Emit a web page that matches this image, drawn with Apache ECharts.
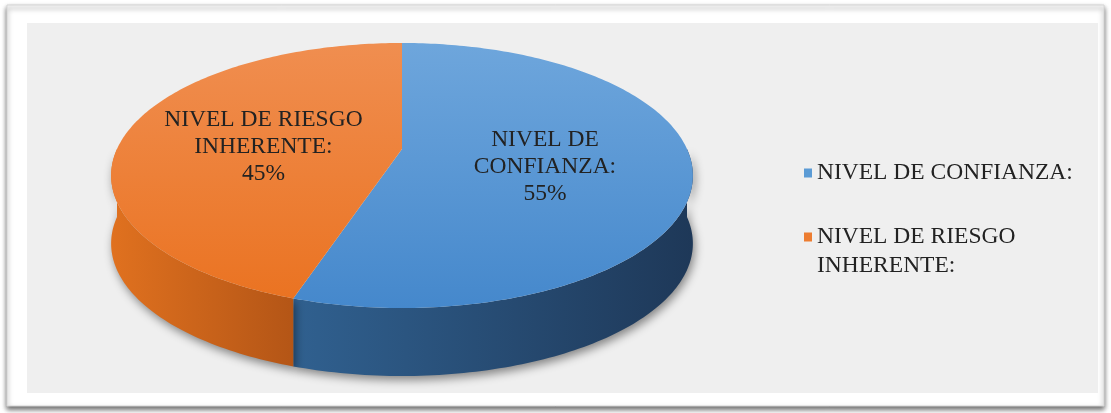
<!DOCTYPE html>
<html>
<head>
<meta charset="utf-8">
<script src="https://cdn.jsdelivr.net/npm/echarts@6/dist/echarts.min.js"></script>
<style>
html,body{margin:0;padding:0;background:#ffffff;}
#chart{width:1111px;height:413px;}
</style>
</head>
<body>
<div id="chart"></div>
<script>
// ---- data ----
const categories = ['NIVEL DE CONFIANZA:', 'NIVEL DE RIESGO INHERENTE:'];
const values = [55, 45];
const sliceLabelLines = [['NIVEL DE', 'CONFIANZA:'], ['NIVEL DE RIESGO', 'INHERENTE:']];
const legendLabelLines = [['NIVEL DE CONFIANZA:'], ['NIVEL DE RIESGO', 'INHERENTE:']];
const sliceColors = ['#5b9bd5', '#ed7d31'];

// ---- styling / geometry ----
const FONT = '"Liberation Serif", "Times New Roman", serif';
const PIE = { cx: 402, cy: 149, R: 285, Ry: 127.2, p: 0.2, depth: 68 };
const topGrad = [
  ['#6ea6dc', '#4588cc'],
  ['#f08e50', '#ea7220']
];
const sideGrad = [
  { x0: 297, x1: 693, c0: '#30608f', c1: '#1e3858' },
  { x0: 111, x1: 297, c0: '#e0711f', c1: '#b35516' }
];

const total = values.reduce((a, b) => a + b, 0);

function project(thetaDeg, r) {
  const t = thetaDeg * Math.PI / 180;
  const u = r * Math.sin(t);
  const v = -r * Math.cos(t);
  const f = 1 / (1 - PIE.p * v);
  return [PIE.cx + PIE.R * u * f, PIE.cy + PIE.Ry * v * f];
}

function arc(a0, a1) {
  const pts = [];
  const n = Math.max(2, Math.ceil(Math.abs(a1 - a0) / 1));
  for (let k = 0; k <= n; k++) pts.push(project(a0 + (a1 - a0) * k / n, 1));
  return pts;
}

function renderSlice(params, api) {
  const i = params.seriesIndex;
  const val = api.value(0);
  let before = 0;
  for (let k = 0; k < i; k++) before += values[k];
  const start = 360 * before / total;
  const end = start + 360 * val / total;
  const children = [];

  // visible outer side (front half)
  const s0 = Math.max(start, 90), s1 = Math.min(end, 270);
  if (s1 > s0) {
    const topArc = arc(s0, s1);
    const bottomArc = topArc.map(p => [p[0], p[1] + PIE.depth]).reverse();
    const g = sideGrad[i];
    children.push({
      type: 'polygon',
      z2: 1,
      shape: { points: topArc.concat(bottomArc) },
      style: {
        fill: new echarts.graphic.LinearGradient(g.x0, 0, g.x1, 0,
          [{ offset: 0, color: g.c0 }, { offset: 1, color: g.c1 }], true),
        shadowBlur: 10,
        shadowColor: 'rgba(0,0,0,0.45)',
        shadowOffsetX: 2,
        shadowOffsetY: 4
      }
    });
  }

  // top face
  const topPts = [project(0, 0)].concat(arc(start, end));
  children.push({
    type: 'polygon',
    z2: 10,
    shape: { points: topPts },
    style: {
      fill: new echarts.graphic.LinearGradient(0, 43, 0, 308,
        [{ offset: 0, color: topGrad[i][0] }, { offset: 1, color: topGrad[i][1] }], true)
    }
  });

  // label
  const mid = (start + end) / 2;
  const lp = project(mid, 0.5);
  const pct = Math.round(val / total * 100) + '%';
  children.push({
    type: 'text',
    z2: 20,
    x: lp[0],
    y: lp[1] + 8,
    style: {
      text: sliceLabelLines[i].concat([pct]).join('\n'),
      align: 'center',
      verticalAlign: 'middle',
      fontFamily: FONT,
      fontSize: 23.5,
      lineHeight: 27,
      fill: '#222222'
    }
  });
  return { type: 'group', children: children };
}

const series = categories.map((name, i) => ({
  type: 'custom',
  name: name,
  coordinateSystem: 'none',
  silent: true,
  animation: false,
  itemStyle: { color: sliceColors[i] },
  data: [[values[i]]],
  renderItem: renderSlice
}));

const chart = echarts.init(document.getElementById('chart'), null, { renderer: 'canvas' });
chart.setOption({
  animation: false,
  graphic: [
    {
      type: 'rect', z: -10,
      shape: { x: 7, y: 5, width: 1097, height: 401 },
      style: { fill: '#ffffff', stroke: '#d4d4d4', lineWidth: 1,
        shadowBlur: 5, shadowColor: 'rgba(0,0,0,0.6)', shadowOffsetY: 3 }
    },
    {
      type: 'rect', z: -9,
      shape: { x: 27, y: 23, width: 1071, height: 370 },
      style: { fill: '#efefef' }
    }
  ],
  legend: {
    orient: 'vertical',
    left: 804,
    top: 158.5,
    padding: 0,
    itemGap: 6,
    itemWidth: 8,
    itemHeight: 9,
    icon: 'rect',
    selectedMode: false,
    data: categories,
    formatter: function (name) {
      const lines = legendLabelLines[categories.indexOf(name)];
      // pad with blank lines above so the first line sits beside the icon
      const pad = [];
      for (let k = 1; k < lines.length; k++) pad.push(' ');
      return pad.concat(lines).join('\n');
    },
    textStyle: {
      fontFamily: FONT,
      fontSize: 23.5,
      lineHeight: 29,
      color: '#222222'
    }
  },
  series: series
});
</script>
</body>
</html>
